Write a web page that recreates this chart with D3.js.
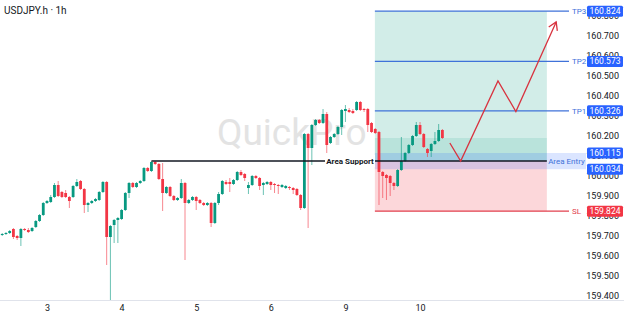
<!DOCTYPE html>
<html>
<head>
<meta charset="utf-8">
<script src="https://cdn.jsdelivr.net/npm/d3@7"></script>
<style>
  html, body { margin: 0; padding: 0; background: #fff; }
  svg { display: block; font-family: Roboto, "Noto Sans", sans-serif; }
</style>
</head>
<body>
<div id="chart"></div>
<script>
// USDJPY.h 1h candles (bar index 0..119)
var opens = [159.700,159.705,159.710,159.715,159.735,159.700,159.690,159.735,159.730,159.725,
  159.745,159.775,159.805,159.865,159.870,159.895,159.955,159.920,159.915,159.895,
  159.895,159.950,159.975,159.935,159.855,159.865,159.875,159.880,159.920,159.970,
  159.695,159.755,159.780,159.785,159.830,159.915,159.965,159.945,159.965,159.975,
  160.040,160.025,160.070,160.060,159.985,159.915,159.945,159.900,159.880,159.890,
  159.965,159.865,159.880,159.895,159.880,159.865,159.855,159.865,159.765,159.865,
  159.910,159.970,159.970,159.960,159.980,160.020,160.010,159.940,159.955,160.000,
  159.990,159.955,159.960,159.970,159.960,159.955,159.945,159.940,159.945,159.940,
  159.935,159.905,159.840,160.210,160.140,160.255,160.280,160.265,160.310,160.165,
  160.195,160.210,160.245,160.325,160.330,160.325,160.330,160.370,160.335,160.335,
  160.265,160.235,160.220,160.020,160.005,160.000,159.965,159.950,160.030,160.075,
  160.115,160.155,160.200,160.255,160.210,160.135,160.125,160.160,160.175,160.230];
var highs = [159.710,159.715,159.720,159.730,159.740,159.705,159.740,159.740,159.740,159.745,
  159.780,159.810,159.870,159.880,159.905,159.965,159.975,159.925,159.930,159.900,
  159.955,159.985,159.980,159.940,159.870,159.880,159.890,159.925,159.975,159.975,
  159.755,159.785,159.795,159.835,159.920,159.970,159.970,159.970,159.980,160.045,
  160.045,160.075,160.075,160.065,160.065,159.950,159.950,159.905,159.895,159.985,
  159.970,159.885,159.900,159.900,159.885,159.870,159.870,159.870,159.870,159.920,
  159.980,159.980,159.990,159.985,160.025,160.030,160.015,159.970,160.005,160.005,
  159.995,159.970,159.975,159.975,159.965,159.960,159.960,159.955,159.950,159.945,
  159.940,159.910,160.215,160.215,160.260,160.285,160.285,160.335,160.320,160.200,
  160.215,160.250,160.335,160.355,160.340,160.335,160.375,160.375,160.340,160.340,
  160.270,160.240,160.225,160.025,160.010,160.005,159.970,160.035,160.195,160.120,
  160.160,160.205,160.270,160.270,160.215,160.140,160.165,160.220,160.260,160.235];
var lows = [159.690,159.700,159.705,159.710,159.685,159.680,159.650,159.725,159.715,159.720,
  159.740,159.770,159.800,159.860,159.865,159.890,159.895,159.890,159.890,159.840,
  159.890,159.945,159.930,159.815,159.820,159.860,159.870,159.875,159.915,159.555,
  159.360,159.665,159.665,159.780,159.825,159.890,159.940,159.940,159.960,159.970,
  160.020,160.020,160.055,159.980,159.825,159.910,159.895,159.875,159.875,159.885,
  159.580,159.860,159.875,159.830,159.860,159.850,159.850,159.745,159.760,159.855,
  159.905,159.955,159.920,159.955,159.975,160.000,159.975,159.910,159.950,159.985,
  159.930,159.905,159.955,159.930,159.915,159.910,159.940,159.935,159.930,159.910,
  159.900,159.830,159.835,159.740,160.055,160.250,160.260,160.260,160.115,160.160,
  160.190,160.205,160.205,160.270,160.315,160.310,160.325,160.325,160.320,160.220,
  160.215,160.210,159.855,159.890,159.880,159.900,159.930,159.945,160.025,160.070,
  160.110,160.150,160.195,160.205,160.140,160.095,160.095,160.155,160.170,160.185];
var closes = [159.705,159.710,159.715,159.725,159.695,159.690,159.735,159.730,159.720,159.740,
  159.775,159.805,159.865,159.875,159.895,159.955,159.900,159.895,159.895,159.875,
  159.950,159.970,159.935,159.855,159.865,159.875,159.885,159.920,159.970,159.695,
  159.750,159.780,159.790,159.830,159.915,159.965,159.945,159.965,159.975,160.040,
  160.025,160.070,160.060,159.985,159.915,159.945,159.900,159.880,159.890,159.965,
  159.865,159.880,159.895,159.875,159.865,159.855,159.865,159.765,159.865,159.910,
  159.975,159.960,159.960,159.980,160.020,160.005,159.990,159.955,160.000,159.990,
  159.950,159.965,159.970,159.955,159.955,159.950,159.955,159.950,159.940,159.930,
  159.905,159.840,160.210,160.140,160.255,160.280,160.265,160.310,160.155,160.195,
  160.210,160.245,160.330,160.335,160.320,160.315,160.370,160.330,160.330,160.255,
  160.220,160.215,160.020,160.000,159.990,159.965,159.950,160.030,160.075,160.115,
  160.155,160.200,160.255,160.210,160.145,160.115,160.160,160.175,160.230,160.190];

// time axis
var dayTicks = [13, 33, 53, 73, 93, 113];
var dayLabels = ["3", "4", "5", "6", "9", "10"];

// price axis
var priceTicks = [159.4, 159.5, 159.6, 159.7, 159.8, 159.9, 160.0, 160.1,
  160.2, 160.3, 160.4, 160.5, 160.6, 160.7, 160.8];

// trade levels
var levelNames = ["TP3", "TP2", "TP1", "SL"];
var levelPrices = [160.824, 160.573, 160.326, 159.824];
var entryZone = [160.115, 160.034];
var areaSupport = 160.075;
var supportStart = 41;
var positionSpan = [100.9, 147];
var greenBand = [160.190, 160.075];
var entryLabelEnd = 157.5;

// projected path (bar index, price)
var pathBars = [121, 123.9, 133.9, 138.7, 149.5];
var pathPrices = [160.165, 160.075, 160.475, 160.3225, 160.77];

var W = 624, H = 317;
var up = "#089981", down = "#f23645", blue = "#2962ff";

var svg = d3.select("#chart").append("svg")
    .attr("width", W)
    .attr("height", H);

var x = d3.scaleLinear().domain([0, 119]).range([-1.5, 442.4]);
var y = d3.scaleLinear().domain([160.88, 159.38]).range([0, 300]);

svg.append("defs").append("clipPath").attr("id", "plot")
  .append("rect").attr("x", 0).attr("y", 0).attr("width", W).attr("height", 300);

var plot = svg.append("g").attr("clip-path", "url(#plot)");

/* watermark */
plot.append("text")
    .attr("x", 217)
    .attr("y", 145)
    .style("font-size", "37px")
    .style("fill", "#e3e3e3")
    .text("QuickPro");

/* position box */
var pos = plot.append("g");
pos.append("rect")
    .attr("x", x(positionSpan[0]))
    .attr("y", y(levelPrices[0]))
    .attr("width", x(positionSpan[1]) - x(positionSpan[0]))
    .attr("height", y(areaSupport) - y(levelPrices[0]))
    .style("fill", up).style("fill-opacity", 0.18);
pos.append("rect")
    .attr("x", x(positionSpan[0]))
    .attr("y", y(greenBand[0]))
    .attr("width", x(positionSpan[1]) - x(positionSpan[0]))
    .attr("height", y(greenBand[1]) - y(greenBand[0]))
    .style("fill", up).style("fill-opacity", 0.12);
pos.append("rect")
    .attr("x", x(positionSpan[0]))
    .attr("y", y(areaSupport))
    .attr("width", x(positionSpan[1]) - x(positionSpan[0]))
    .attr("height", y(levelPrices[3]) - y(areaSupport))
    .style("fill", down).style("fill-opacity", 0.2);
pos.append("rect")
    .attr("x", x(positionSpan[0]))
    .attr("y", y(entryZone[0]))
    .attr("width", x(entryLabelEnd) - x(positionSpan[0]))
    .attr("height", y(entryZone[1]) - y(entryZone[0]))
    .style("fill", blue).style("fill-opacity", 0.17);

/* candles */
var idx = d3.range(opens.length);
plot.selectAll("line.wick").data(idx).enter().append("line")
    .attr("class", "wick")
    .attr("x1", function(i){ return x(i); })
    .attr("x2", function(i){ return x(i); })
    .attr("y1", function(i){ return y(highs[i]); })
    .attr("y2", function(i){ return y(lows[i]); })
    .style("stroke", function(i){ return closes[i] >= opens[i] ? up : down; })
    .style("stroke-opacity", 0.6)
    .style("stroke-width", 1);

plot.selectAll("rect.body").data(idx).enter().append("rect")
    .attr("class", "body")
    .attr("x", function(i){ return x(i) - 1.4; })
    .attr("width", 2.8)
    .attr("y", function(i){ return y(Math.max(opens[i], closes[i])); })
    .attr("height", function(i){ return Math.max(1, Math.abs(y(opens[i]) - y(closes[i]))); })
    .style("fill", function(i){ return closes[i] >= opens[i] ? up : down; });

/* area support */
plot.append("line")
    .attr("x1", x(supportStart)).attr("x2", x(positionSpan[1]))
    .attr("y1", y(areaSupport)).attr("y2", y(areaSupport))
    .style("stroke", "#131722").style("stroke-width", 1.4);

var sup = plot.append("g").attr("transform", "translate(" + 350 + "," + y(areaSupport) + ")");
sup.append("rect").attr("x", -25).attr("y", -6).attr("width", 50).attr("height", 12)
    .style("fill", "#fff");
sup.append("text").attr("text-anchor", "middle").attr("dy", "0.35em")
    .style("font-size", "8px").style("font-weight", "bold").style("fill", "#131722")
    .text("Area Support");

/* TP / SL lines */
plot.selectAll("line.level").data(levelPrices).enter().append("line")
    .attr("class", "level")
    .attr("x1", x(positionSpan[0])).attr("x2", 569)
    .attr("y1", function(d){ return y(d); })
    .attr("y2", function(d){ return y(d); })
    .style("stroke", function(d, i){ return levelNames[i] == "SL" ? "#e2414e" : "#3f72d9"; })
    .style("stroke-width", 1.2);

plot.selectAll("text.level").data(levelPrices).enter().append("text")
    .attr("class", "level")
    .attr("x", 572)
    .attr("y", function(d){ return y(d); })
    .attr("dy", "0.35em")
    .style("font-size", "8px")
    .style("fill", function(d, i){ return levelNames[i] == "SL" ? "#e2414e" : "#3f72d9"; })
    .text(function(d, i){ return levelNames[i]; });

plot.append("text")
    .attr("x", (x(positionSpan[1]) + x(entryLabelEnd)) / 2)
    .attr("y", y((entryZone[0] + entryZone[1]) / 2))
    .attr("dy", "0.35em")
    .attr("text-anchor", "middle")
    .style("font-size", "8px")
    .style("fill", "#3f72d9")
    .text("Area Entry");

/* projected path */
var pts = pathBars.map(function(b, i){ return [x(b), y(pathPrices[i])]; });
plot.append("path")
    .attr("d", d3.line()(pts))
    .style("fill", "none").style("stroke", "#d8333f").style("stroke-width", 1.3);
var last = pts[pts.length - 1], prev = pts[pts.length - 2];
var ang = Math.atan2(last[1] - prev[1], last[0] - prev[0]);
var head = [ang + Math.PI - 0.55, ang + Math.PI + 0.55].map(function(a){
  return [last[0] + 9 * Math.cos(a), last[1] + 9 * Math.sin(a)];
});
plot.append("path")
    .attr("d", d3.line()([head[0], last, head[1]]))
    .style("fill", "none").style("stroke", "#d8333f").style("stroke-width", 1.3);

/* axes */
svg.append("line").attr("x1", 0).attr("x2", W).attr("y1", 300.5).attr("y2", 300.5)
    .style("stroke", "#e0e3eb");

var xAxis = svg.append("g").attr("transform", "translate(0,300)")
    .call(d3.axisBottom(x).tickValues(dayTicks)
      .tickFormat(function(d, i){ return dayLabels[i]; })
      .tickSize(0).tickPadding(5));
xAxis.select(".domain").remove();
xAxis.selectAll("text").style("font-size", "9px").style("fill", "#131722")
    .style("font-family", "Roboto");

var yAxis = svg.append("g").attr("transform", "translate(619,0)")
    .call(d3.axisRight(y).tickValues(priceTicks).tickFormat(d3.format(".3f"))
      .tickSize(0).tickPadding(0));
yAxis.select(".domain").remove();
yAxis.selectAll("text").attr("text-anchor", "end")
    .style("font-size", "9px").style("fill", "#131722").style("font-family", "Roboto");

/* price tags */
var tagPrices = levelPrices.concat(entryZone);
var tags = svg.selectAll("g.tag").data(tagPrices).enter().append("g")
    .attr("class", "tag")
    .attr("transform", function(d){ return "translate(587," + y(d) + ")"; });
tags.append("rect")
    .attr("x", 0).attr("y", -5.5).attr("width", 36).attr("height", 11).attr("rx", 1.5)
    .style("fill", function(d, i){ return i == 3 ? down : blue; });
tags.append("text")
    .attr("x", 18).attr("dy", "0.35em").attr("text-anchor", "middle")
    .style("font-size", "8.5px").style("fill", "#fff")
    .text(function(d){ return d3.format(".3f")(d); });

/* title */
svg.append("text")
    .attr("x", 4).attr("y", 14)
    .style("font-size", "10px").style("fill", "#131722")
    .text("USDJPY.h \u00b7 1h");
</script>
</body>
</html>
